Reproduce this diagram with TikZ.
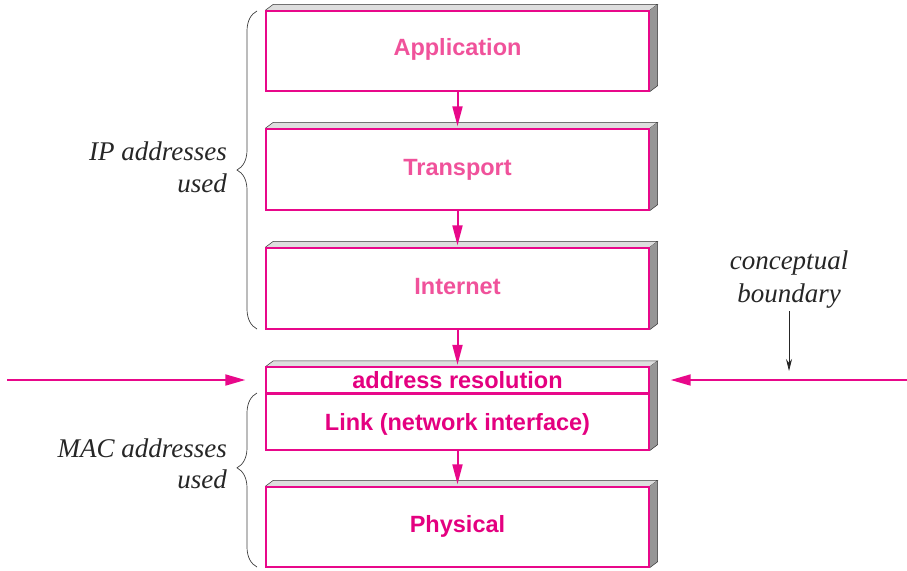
\documentclass[tikz,border=0pt]{standalone}
\usepackage{fontspec}
\setmainfont{Liberation Serif}
\setsansfont{Liberation Sans}
\usetikzlibrary{arrows.meta,decorations.pathreplacing}
\definecolor{mag}{RGB}{232,8,138}
\definecolor{magtext}{RGB}{228,0,128}
\definecolor{pinktext}{RGB}{240,82,155}
\definecolor{topgray}{RGB}{222,222,222}
\definecolor{sidegray}{RGB}{150,150,150}
\tikzset{
  layer/.style={draw=mag, line width=1.4pt, fill=white, minimum width=383pt, inner sep=0pt},
  boxtext/.style={font=\sffamily\bfseries\fontsize{23.5}{28}\selectfont, inner sep=0pt, anchor=base},
  lighttxt/.style={boxtext, text=pinktext},
  darktxt/.style={boxtext, text=magtext},
  face/.style={draw=black!80, line width=0.5pt},
  downarrow/.style={draw=mag, line width=2pt, shorten >=2pt, -{Triangle[length=20pt,width=10pt]}},
  sidearrow/.style={draw=mag, line width=1.8pt, -{Triangle[length=20pt,width=11pt]}},
  bracestyle/.style={draw=black!75, line width=0.7pt, decorate},
  italiclabel/.style={font=\itshape\fontsize{27}{32}\selectfont, text=black!85, inner sep=0pt, anchor=base east},
}
\newcommand\depthfaces[2]{%
  \fill[topgray] (#1.north west) -- ++(8,-6) -- ([shift={(8,-6)}]#1.north east) -- (#1.north east) -- cycle;
  \draw[face] (#1.north west) -- ++(8,-6) -- ([shift={(8,-6)}]#1.north east) -- (#1.north east);
  \fill[sidegray] (#1.north east) -- ++(8,-6) -- ([shift={(8,-6)}]#2.south east) -- (#2.south east) -- cycle;
  \draw[face] ([shift={(8,-6)}]#1.north east) -- ([shift={(8,-6)}]#2.south east) -- (#2.south east);
}
\begin{document}
\begin{tikzpicture}[x=1pt,y=-1pt]
\useasboundingbox (0,0) rectangle (907,570);
% layers
\node[layer, minimum height=80pt] (app) at (457.5,51) {};
\node[layer, minimum height=81pt] (trans) at (457.5,169.5) {};
\node[layer, minimum height=81pt] (inet) at (457.5,288.5) {};
\node[layer, minimum height=25pt] (addr) at (457.5,380) {};
\node[layer, minimum height=56pt, anchor=north] (link) at (addr.south) {};
\node[layer, minimum height=80pt] (phys) at (457.5,527) {};
\depthfaces{app}{app}
\depthfaces{trans}{trans}
\depthfaces{inet}{inet}
\depthfaces{addr}{link}
\depthfaces{phys}{phys}
% redraw front borders on top
\foreach \n in {app,trans,inet,addr,link,phys}
  \draw[mag, line width=1.4pt] (\n.north west) rectangle (\n.south east);
% texts
\node[lighttxt] (apptxt) at (457.5,55) {Application};
\node[lighttxt] (transtxt) at (457.5,175) {Transport};
\node[lighttxt] (inettxt) at (457.5,294) {Internet};
\node[darktxt] (addrtxt) at (457.5,388) {address resolution};
\node[darktxt] (linktxt) at (457.5,430) {Link (network interface)};
\node[darktxt] (phystxt) at (457.5,532) {Physical};
% vertical arrows
\draw[downarrow] (app.south) -- (trans.north);
\draw[downarrow] (trans.south) -- (inet.north);
\draw[downarrow] (inet.south) -- (addr.north);
\draw[downarrow] (link.south) -- (phys.north);
% side arrows
\coordinate (lfree) at (7,380);
\coordinate (rfree) at (907,380);
\draw[sidearrow, shorten >=20pt] (lfree) -- (addr.west);
\draw[sidearrow, shorten >=21pt] (rfree) -- (addr.east);
% braces
\coordinate (ipb) at (257,329);
\coordinate (ipt) at (257,11);
\draw[bracestyle, decoration={brace, amplitude=20pt}] (ipb) -- (ipt);
\coordinate (macb) at (257,567);
\coordinate (mact) at (257,393);
\draw[bracestyle, decoration={brace, amplitude=20pt, aspect=0.57}] (macb) -- (mact);
% labels
\node[italiclabel] (ip1) at (227,160) {IP addresses};
\node[italiclabel] (ip2) at (227,192) {used};
\node[italiclabel] (mac1) at (227,457) {MAC addresses};
\node[italiclabel] (mac2) at (227,488) {used};
\node[italiclabel, anchor=base] (cb1) at (789,269) {conceptual};
\node[italiclabel, anchor=base] (cb2) at (789,302) {boundary};
\coordinate (cbtip) at (789,371);
\draw[black!85, line width=0.8pt, -{Stealth[length=12pt,width=6pt]}] (cb2.south) ++(0,3) -- (cbtip);
\end{tikzpicture}
\end{document}
